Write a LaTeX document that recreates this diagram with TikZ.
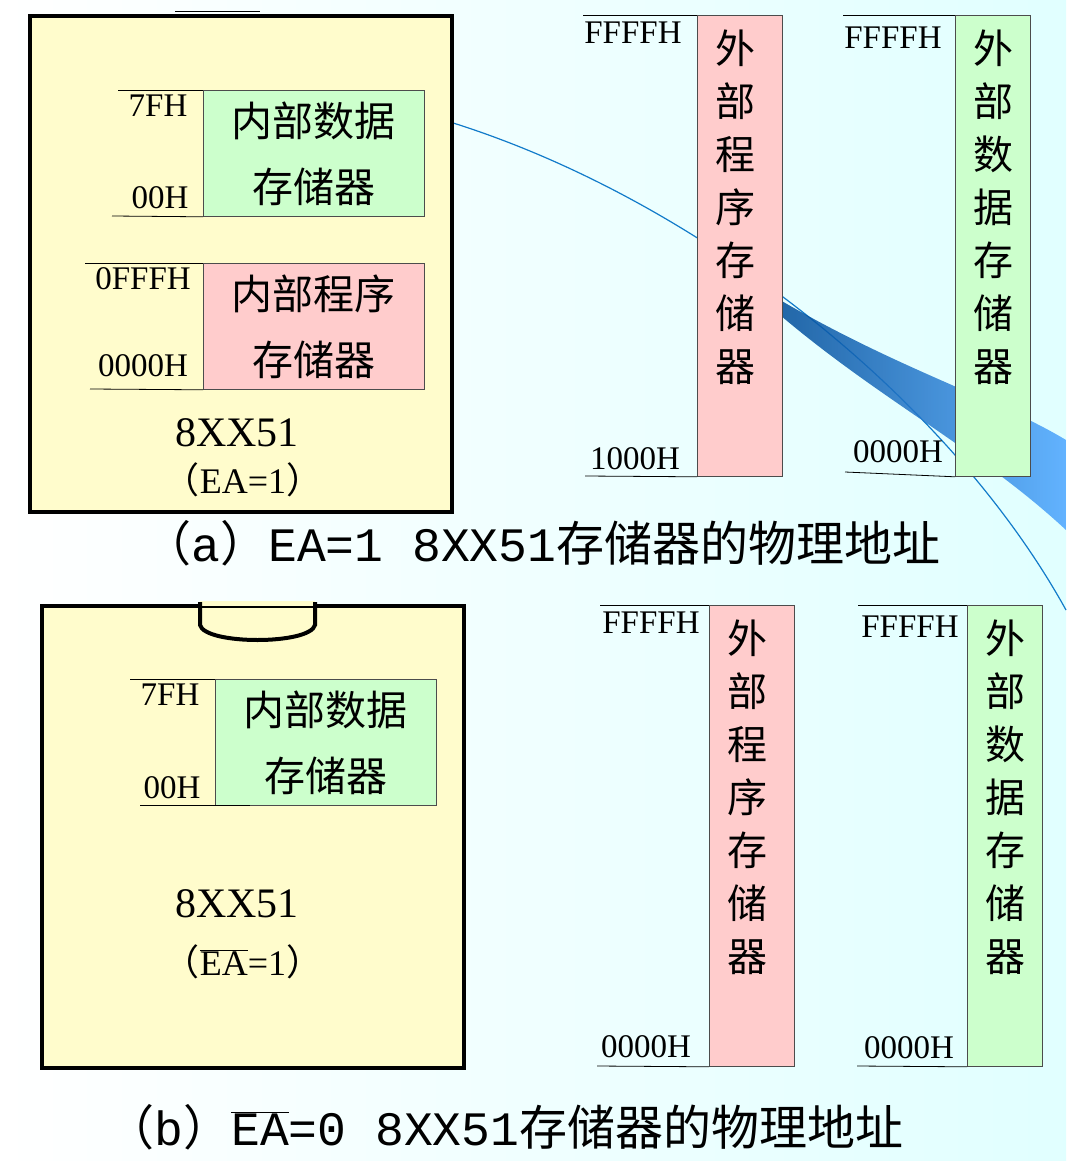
\documentclass[tikz,border=0pt]{standalone}
\usepackage{fontspec}
\setmainfont{Liberation Serif}
\newfontfamily\cjk{Noto Sans CJK SC}
\newfontfamily\capf{Liberation Mono}
\begin{document}
\begin{tikzpicture}[x=1pt,y=-1pt,
  chip/.style={draw=black,line width=4pt,fill=yellow!20},
  gbox/.style={draw=black!70,fill=green!20,line width=0.8pt},
  pbox/.style={draw=black!70,fill=red!20,line width=0.8pt},
  lab/.style={font=\fontsize{33}{33}\selectfont,inner sep=0pt},
  cj/.style={font=\cjk\fontsize{41}{44}\selectfont,inner sep=0pt},
  vcj/.style={font=\cjk\fontsize{40}{53}\selectfont,inner sep=0pt,align=center},
  captext/.style={font=\fontsize{48}{48}\selectfont,inner sep=0pt},
  tick/.style={line width=0.8pt}]
\useasboundingbox (0,0) rectangle (1066,1161);
\shade[left color=white,right color=cyan!12] (0,0) rectangle (1066,1161);
\draw[cyan!60!blue,line width=1.2pt] (450,122) .. controls (700,200) and (950,400) .. (1066,610);
\shade[left color=blue!50!cyan!60!black,right color=cyan!50!blue!70,opacity=0.85] (780,300) .. controls (900,370) and (1000,400) .. (1066,440) -- (1066,530) .. controls (980,450) and (880,400) .. (780,315) -- cycle;
% top chip
\node[chip,minimum width=422pt,minimum height=496pt,anchor=north west] (chipA) at (28,14) {};
\draw[line width=1pt] (175,12) -- (260,12);
\node[gbox,minimum width=221pt,minimum height=126pt,anchor=north west] (da) at (203,90) {};
\node[cj,align=center] at (da) {内部数据\\[22pt]存储器};
\node[pbox,minimum width=221pt,minimum height=126pt,anchor=north west] (pa) at (203,263) {};
\node[cj,align=center] at (pa) {内部程序\\[22pt]存储器};
\draw[tick] (118,90) -- (da.north west); \draw[tick] (112,216) -- (da.south west);
\draw[tick] (85,263) -- (pa.north west); \draw[tick] (90,389) -- (pa.south west);
\node[lab] (a1) at (158,106) {7FH};
\node[lab] (a2) at (160,198) {00H};
\node[lab] (a3) at (143,279) {0FFFH};
\node[lab] (a4) at (143,366) {0000H};
\node[lab,font=\fontsize{42}{42}\selectfont] (ca) at (237,433) {8XX51};
\node[lab,font=\fontsize{36}{36}\selectfont] (ea) at (243,480) {\cjk （\normalfont EA=1\cjk ）};
\node[captext] (capa) at (542,543) {\cjk （\capf a\cjk ）\capf EA=1 8XX51\cjk 存储器的物理地址};
\node[pbox,minimum width=85pt,minimum height=461pt,anchor=north west] (pA) at (697,15) {};
\node[vcj,anchor=north] at (735,30) {外\\部\\程\\序\\存\\储\\器};
\node[gbox,minimum width=75pt,minimum height=461pt,anchor=north west] (gA) at (955,15) {};
\node[vcj,anchor=north] at (993,30) {外\\部\\数\\据\\存\\储\\器};
\draw[tick] (583,15) -- (pA.north west); \draw[tick] (585,476) -- (pA.south west);
\draw[tick] (843,15) -- (gA.north west); \draw[tick] (845,472) -- (gA.south west);
\node[lab] at (633,33) {FFFFH};
\node[lab] at (635,459) {1000H};
\node[lab] at (893,38) {FFFFH};
\node[lab] at (898,452) {0000H};
% bottom chip
\node[chip,minimum width=422pt,minimum height=462pt,anchor=north west] (chipB) at (40,604) {};
\fill[yellow!20] (200,601) rectangle (315,606);
\draw[line width=4pt] (200,602) -- (200,625) .. controls (205,645) and (310,645) .. (315,625) -- (315,602);
\node[gbox,minimum width=221pt,minimum height=126pt,anchor=north west] (db) at (215,679) {};
\node[cj,align=center] at (db) {内部数据\\[22pt]存储器};
\draw[tick] (130,679) -- (db.north west); \draw[tick] (140,805) -- (250,805);
\node[lab] at (170,695) {7FH};
\node[lab] at (172,788) {00H};
\node[lab,font=\fontsize{42}{42}\selectfont] (cb) at (237,904) {8XX51};
\node[lab,font=\fontsize{36}{36}\selectfont] (eb) at (243,962) {\cjk （\normalfont$\overline{\mbox{EA}}$=1\cjk ）};
\node[captext] (capb) at (505,1127) {\cjk （\capf b\cjk ）\capf$\overline{\mbox{\capf EA}}$=0 8XX51\cjk 存储器的物理地址};
\node[pbox,minimum width=85pt,minimum height=461pt,anchor=north west] (pB) at (709,605) {};
\node[vcj,anchor=north] at (747,620) {外\\部\\程\\序\\存\\储\\器};
\node[gbox,minimum width=75pt,minimum height=461pt,anchor=north west] (gB) at (967,605) {};
\node[vcj,anchor=north] at (1005,620) {外\\部\\数\\据\\存\\储\\器};
\draw[tick] (600,605) -- (pB.north west); \draw[tick] (597,1066) -- (pB.south west);
\draw[tick] (858,605) -- (gB.north west); \draw[tick] (857,1066) -- (gB.south west);
\node[lab] at (651,623) {FFFFH};
\node[lab] at (646,1047) {0000H};
\node[lab] at (910,627) {FFFFH};
\node[lab] at (909,1048) {0000H};
\end{tikzpicture}
\end{document}
